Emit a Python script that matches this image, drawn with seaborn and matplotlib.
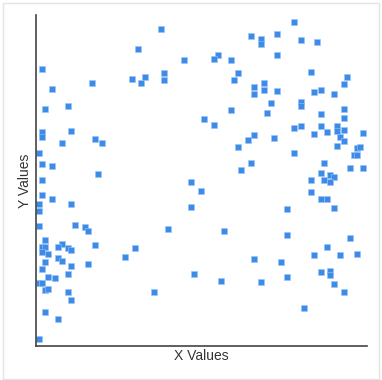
import numpy as np
import pandas as pd
import matplotlib
matplotlib.use("Agg")
import matplotlib.pyplot as plt
from matplotlib.patches import Rectangle
import seaborn as sns

# values (0-100 on both axes)
x_values = [
    37.9, 30.8, 44.8, 1.7, 38.8, 38.8, 32.8, 28.9, 31.8, 16.9,
    4.7, 2.7, 9.8, 1.7, 1.7, 10.7, 7.8, 17.7, 19.8, 0.8,
    1.7, 4.7, 18.7, 1.7, 46.8, 77.9, 65.0, 68.0, 68.0, 72.9,
    80.0, 84.9, 54.9, 53.9, 58.9, 72.9, 60.9, 59.9, 83.0, 94.0,
    93.0, 69.0, 66.0, 66.0, 69.0, 72.9, 84.0, 86.0, 89.9, 70.9,
    80.0, 80.0, 58.9, 69.9, 93.0, 86.0, 93.0, 50.8, 53.9, 77.9,
    80.0, 86.0, 90.9, 90.9, 93.0, 84.0, 87.9, 66.0, 64.0, 71.9,
    91.9, 93.0, 98.9, 60.9, 90.9, 97.0, 98.0, 96.0, 97.0, 77.9,
    65.0, 61.9, 87.0, 95.0, 98.9, 86.0, 88.9, 89.9, 87.0, 88.9,
    83.0, 49.8, 83.0, 1.7, 4.7, 0.8, 0.8, 10.7, 46.8, 0.8,
    11.8, 14.7, 15.7, 39.9, 2.7, 7.8, 1.7, 2.7, 6.6, 9.8,
    10.7, 17.7, 1.7, 3.7, 6.6, 7.8, 2.7, 15.7, 10.7, 26.8,
    29.8, 1.7, 9.8, 3.7, 5.7, 0.8, 1.7, 2.7, 3.7, 9.8,
    10.7, 35.7, 2.7, 6.6, 0.8, 86.0, 87.9, 75.9, 89.9, 56.8,
    75.9, 95.0, 87.9, 84.0, 91.9, 97.0, 66.0, 73.9, 47.8, 55.9,
    67.9, 75.9, 86.0, 88.9, 88.9, 89.9, 93.0, 81.0,
]
y_values = [
    95.8, 89.7, 86.3, 83.8, 82.6, 80.5, 81.2, 80.7, 79.4, 79.5,
    77.7, 71.5, 72.6, 64.6, 63.2, 65.0, 61.4, 62.6, 61.4, 58.4,
    55.1, 54.5, 52.1, 50.1, 49.6, 97.8, 93.7, 92.7, 91.2, 94.3,
    92.5, 91.8, 87.8, 86.7, 86.3, 87.9, 82.6, 80.5, 82.7, 81.2,
    79.1, 79.5, 78.2, 76.1, 77.3, 77.1, 76.6, 77.3, 76.2, 73.5,
    73.6, 72.6, 71.4, 70.4, 71.5, 70.2, 68.8, 68.6, 66.9, 65.9,
    66.4, 66.4, 66.6, 65.0, 65.2, 64.1, 64.7, 63.7, 62.2, 62.8,
    63.1, 61.9, 64.3, 60.0, 60.3, 59.7, 60.0, 57.8, 57.6, 58.2,
    55.2, 53.2, 55.4, 53.8, 53.9, 52.3, 51.8, 51.1, 50.2, 49.5,
    50.2, 46.8, 46.6, 45.6, 44.3, 42.8, 40.9, 42.8, 42.0, 36.3,
    36.6, 36.0, 34.7, 35.3, 32.0, 30.8, 30.0, 30.0, 30.0, 29.6,
    28.9, 30.4, 28.5, 27.7, 26.5, 25.8, 25.5, 24.8, 24.1, 27.0,
    29.5, 23.3, 21.7, 20.8, 20.5, 19.1, 19.1, 16.8, 17.3, 16.2,
    14.0, 16.3, 10.4, 8.2, 2.1, 44.5, 44.3, 41.5, 41.7, 34.7,
    33.4, 32.6, 29.9, 27.4, 27.6, 27.8, 26.2, 25.3, 21.8, 19.5,
    19.3, 20.9, 22.3, 22.7, 21.4, 18.7, 16.3, 11.4,
]
x_label = "X Values"
y_label = "Y Values"

df = pd.DataFrame({"x": x_values, "y": y_values})

sns.set_style("white")
plt.rcParams["font.family"] = ["Liberation Sans", "DejaVu Sans"]

fig = plt.figure(figsize=(3.82, 3.80), dpi=100)
ax = fig.add_axes([36 / 382, 34 / 380, 331 / 382, 331 / 380])

sns.scatterplot(data=df, x="x", y="y", marker="s", s=24,
                color="#3d8be8", edgecolor="#9cc3f2", linewidth=0.4, ax=ax)

ax.set_xlim(0, 100)
ax.set_ylim(0, 100)
ax.set_xticks([])
ax.set_yticks([])
ax.set_xlabel(x_label, fontsize=10, color="#333333", labelpad=2)
ax.set_ylabel(y_label, fontsize=10, color="#333333", labelpad=3)

sns.despine(ax=ax)
for side in ["left", "bottom"]:
    ax.spines[side].set_color("#444444")
    ax.spines[side].set_linewidth(1.2)

# light frame around the whole picture
fig.patches.append(Rectangle((3 / 382, 1 / 380), 376 / 382, 376 / 380,
                             transform=fig.transFigure, fill=False,
                             edgecolor="#e4e4e4", linewidth=1))

fig.savefig("out.png", dpi=100)
